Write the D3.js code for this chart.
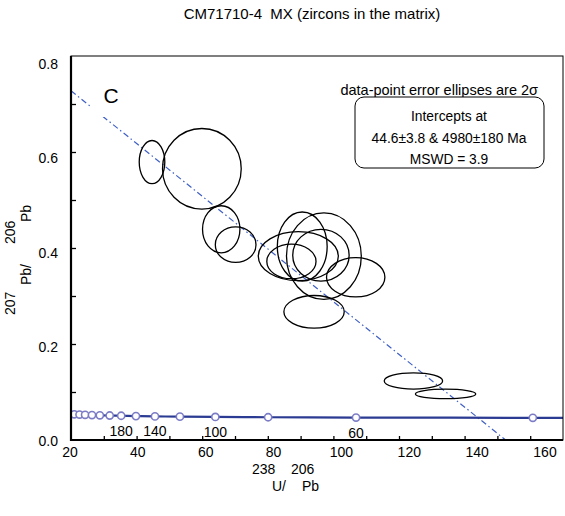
<!DOCTYPE html>
<html>
<head>
<meta charset="utf-8">
<script src="https://cdn.jsdelivr.net/npm/d3@7"></script>
<style>
  body { margin: 0; background: #fff; }
  svg text { font-family: "Liberation Sans", Arial, sans-serif; fill: #000; white-space: pre; }
</style>
</head>
<body>
<div id="chart"></div>
<script>
// ellipses (centre and half-axes, 2 sigma)
var ellX  = [44.7, 59.9, 65.8, 70.2, 89.3, 87.2, 90.5, 97.1, 96.2, 106.8, 94.1, 124.4, 134.2]
  , ellY  = [0.579, 0.565, 0.439, 0.407, 0.383, 0.372, 0.403, 0.383, 0.385, 0.339, 0.267, 0.123, 0.096]
  , ellSx = [3.9, 12.0, 5.7, 6.2, 12.2, 7.5, 7.6, 11.4, 8.6, 8.9, 9.2, 8.9, 9.2]
  , ellSy = [0.045, 0.084, 0.049, 0.037, 0.051, 0.036, 0.072, 0.090, 0.054, 0.041, 0.034, 0.017, 0.010]

// concordia markers (age in Ma)
var concAge = [300, 280, 260, 240, 220, 200, 180, 160, 140, 120, 100, 80, 60, 40]
  , concX   = [21.0, 22.6, 24.3, 26.4, 28.8, 31.8, 35.3, 39.8, 45.6, 53.2, 64.0, 80.1, 106.9, 160.8]
  , concY   = [0.0535, 0.0530, 0.0525, 0.0520, 0.0515, 0.0510, 0.0505, 0.0498, 0.0492, 0.0486, 0.0480, 0.0474, 0.0468, 0.0462]
  , ageLabels = [180, 140, 100, 60]

// discordia end points
var discX = [20, 152.5]
  , discY = [0.7275, 0]

var xTicks = [20, 40, 60, 80, 100, 120, 140, 160]
  , yTicks = [0, 0.2, 0.4, 0.6, 0.8]

var width = 565, height = 516
  , svg = d3.select("#chart").append("svg").attr("width", width).attr("height", height)
  , x = d3.scaleLinear().domain([20, 170]).range([71, 563])
  , y = d3.scaleLinear().domain([0, 0.8]).range([440, 56])
  // the tick labels in the original sit a little off the ticks
  , xl = d3.scaleLinear().domain([20, 160]).range([70, 545])
  , yl = d3.scaleLinear().domain([0, 0.8]).range([441, 64])

svg.append("defs").append("clipPath").attr("id", "plot")
   .append("rect").attr("x", x(20)).attr("y", y(0.8)).attr("width", x(170) - x(20)).attr("height", y(0) - y(0.8))

// title
svg.append("text").attr("x", 312).attr("y", 19).attr("text-anchor", "middle")
   .style("font-size", "15px").text("CM71710-4  MX (zircons in the matrix)")

var plot = svg.append("g").attr("clip-path", "url(#plot)")

// discordia
plot.append("line")
    .attr("x1", x(discX[0])).attr("y1", y(discY[0]))
    .attr("x2", x(discX[1])).attr("y2", y(discY[1]))
    .attr("stroke", "#3f5fc4").attr("stroke-width", 1.2)
    .attr("stroke-dasharray", "6,3,1.5,3")

// panel letter, its box hides a bit of the line
svg.append("rect").attr("x", 90).attr("y", 80).attr("width", 35).attr("height", 37).attr("fill", "#fff")
svg.append("text").attr("x", 111).attr("y", 103).attr("text-anchor", "middle")
   .style("font-size", "21px").text("C")

// ellipses
plot.selectAll("ellipse").data(ellX).enter().append("ellipse")
    .attr("cx", function (d) { return x(d) })
    .attr("cy", function (d, i) { return y(ellY[i]) })
    .attr("rx", function (d, i) { return x(d + ellSx[i]) - x(d) })
    .attr("ry", function (d, i) { return y(0) - y(ellSy[i]) })
    .attr("fill", "none").attr("stroke", "#000").attr("stroke-width", 1.3)

// concordia curve
var curvePts = concX.map(function (d, i) { return [d, concY[i]] })
curvePts.unshift([20, 0.0537])
curvePts.push([170, 0.0461])
plot.append("path").datum(curvePts)
    .attr("d", d3.line().x(function (d) { return x(d[0]) }).y(function (d) { return y(d[1]) }).curve(d3.curveMonotoneX))
    .attr("fill", "none").attr("stroke", "#2b3a92").attr("stroke-width", 2.2)

plot.selectAll("circle").data(concX).enter().append("circle")
    .attr("cx", function (d) { return x(d) })
    .attr("cy", function (d, i) { return y(concY[i]) })
    .attr("r", 3.6)
    .attr("fill", "#fff").attr("stroke", "#7c7cc6").attr("stroke-width", 1.6)

// ticks (inward)
svg.append("g").attr("transform", "translate(0," + y(0) + ")")
   .call(d3.axisBottom(x).tickValues(d3.range(30, 170, 10)).tickSize(-4).tickFormat(""))
   .call(function (g) { g.select(".domain").remove(); g.selectAll("line").attr("stroke", "#000").attr("stroke-width", 1.3) })
svg.append("g").attr("transform", "translate(" + x(20) + ",0)")
   .call(d3.axisLeft(y).tickValues(d3.range(1, 8).map(function (d) { return d / 10 })).tickSize(-5).tickFormat(""))
   .call(function (g) { g.select(".domain").remove(); g.selectAll("line").attr("stroke", "#000").attr("stroke-width", 1.3) })

// frame
svg.append("rect").attr("x", x(20)).attr("y", y(0.8)).attr("width", x(170) - x(20)).attr("height", y(0) - y(0.8))
   .attr("fill", "none").attr("stroke", "#000").attr("stroke-width", 1)
svg.append("path").attr("d", "M" + x(20) + "," + y(0.8) + "V" + y(0) + "H" + x(170))
   .attr("fill", "none").attr("stroke", "#000").attr("stroke-width", 2.2)

// age labels on concordia
svg.selectAll(".age").data(ageLabels).enter().append("text").attr("class", "age")
   .attr("x", function (d) { return x(concX[concAge.indexOf(d)]) })
   .attr("y", function (d) { return y(concY[concAge.indexOf(d)]) + 20 })
   .attr("text-anchor", "middle").style("font-size", "14px")
   .text(function (d) { return d })

// tick labels
svg.selectAll(".xl").data(xTicks).enter().append("text").attr("class", "xl")
   .attr("x", function (d) { return xl(d) }).attr("y", 457)
   .attr("text-anchor", "middle").style("font-size", "14px").text(function (d) { return d })
svg.selectAll(".yl").data(yTicks).enter().append("text").attr("class", "yl")
   .attr("x", 58).attr("y", function (d) { return yl(d) + 5 })
   .attr("text-anchor", "end").style("font-size", "14px").text(function (d) { return d.toFixed(1) })

// axis titles (isotope numbers raised a whole line, as in the original)
var xt = svg.append("g").style("font-size", "14px")
xt.append("text").attr("x", 252).attr("y", 474).text("238")
xt.append("text").attr("x", 272).attr("y", 491).text("U/")
xt.append("text").attr("x", 291).attr("y", 474).text("206")
xt.append("text").attr("x", 302).attr("y", 491).text("Pb")

var yt = svg.append("g").attr("transform", "rotate(-90)").style("font-size", "14px")
yt.append("text").attr("x", -315).attr("y", 15).text("207")
yt.append("text").attr("x", -285).attr("y", 31).text("Pb/")
yt.append("text").attr("x", -244).attr("y", 15).text("206")
yt.append("text").attr("x", -222).attr("y", 31).text("Pb")

// legend texts
svg.append("text").attr("x", 538).attr("y", 95).attr("text-anchor", "end")
   .style("font-size", "14.5px").text("data-point error ellipses are 2σ")
svg.append("rect").attr("x", 355).attr("y", 97).attr("width", 189).attr("height", 71).attr("rx", 9)
   .attr("fill", "#fff").attr("stroke", "#000").attr("stroke-width", 1)
var box = ["Intercepts at", "44.6±3.8 & 4980±180 Ma", "MSWD = 3.9"]
svg.selectAll(".box").data(box).enter().append("text").attr("class", "box")
   .attr("x", 449).attr("y", function (d, i) { return 121 + i * 21.5 })
   .attr("text-anchor", "middle").style("font-size", "13.8px").text(function (d) { return d })
</script>
</body>
</html>
